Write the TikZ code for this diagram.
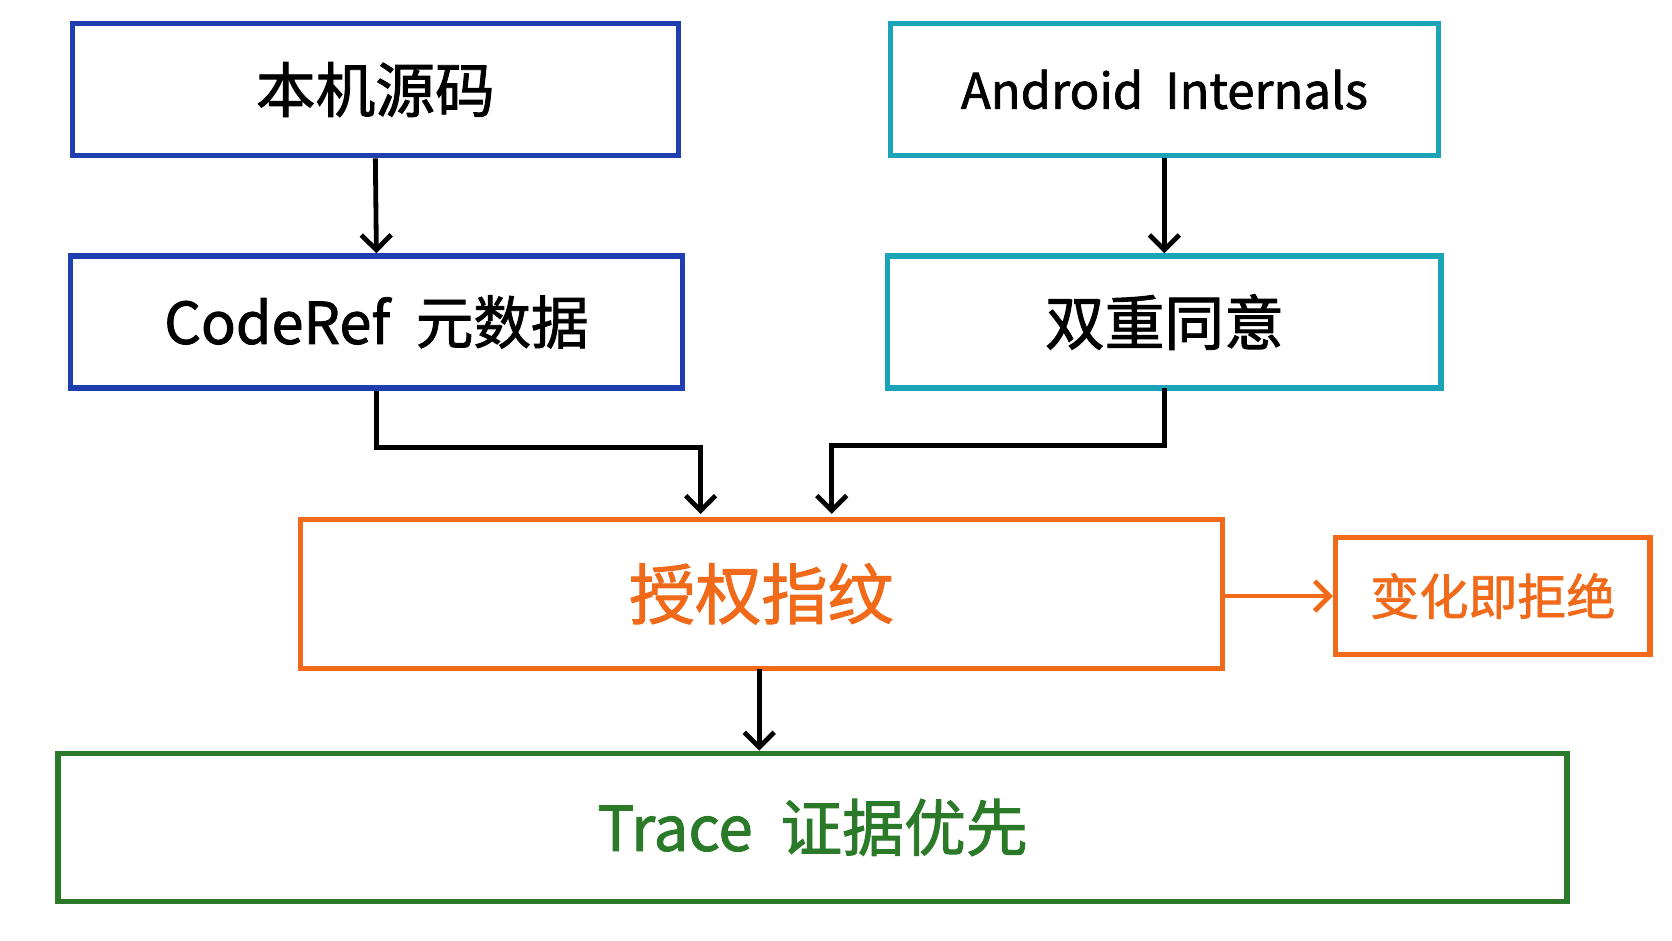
\documentclass[tikz,border=0pt]{standalone}
\usepackage{fontspec}
\setmainfont{Noto Sans CJK SC}[FakeBold=1.5,AutoFakeBold=1.5]
\usetikzlibrary{arrows.meta}
\definecolor{cb}{HTML}{1F3FB0}
\definecolor{ct}{HTML}{1BA3B8}
\definecolor{co}{HTML}{F06A1A}
\definecolor{cg}{HTML}{2A7A2A}
\begin{document}
\begin{tikzpicture}[x=1pt,y=-1pt,
 box/.style={draw=#1,line width=5pt,inner sep=0pt,anchor=center,font=\bfseries},
 arr/.style={line width=4.5pt,-{Straight Barb[length=14pt,width=28pt,line width=4.5pt]}}]
\fill[white] (0,0) rectangle (1568,882);
\useasboundingbox (0,0) rectangle (1568,882);
\node[box=cb,minimum width=568pt,minimum height=124pt] (a) at (352,84) {\fontsize{56}{64}\selectfont 本机源码};
\node[box=ct,minimum width=514pt,minimum height=124pt] (b) at (1092,84) {\fontsize{46}{54}\selectfont Android\ \ Internals};
\node[box=cb,minimum width=574pt,minimum height=124pt] (c) at (353,302) {\fontsize{54}{62}\selectfont CodeRef\ \ 元数据};
\node[box=ct,minimum width=519pt,minimum height=124pt] (d) at (1092,302) {\fontsize{56}{64}\selectfont 双重同意};
\node[box=co,minimum width=865pt,minimum height=140pt,text=co] (e) at (714,557) {\fontsize{62}{70}\selectfont 授权指纹};
\node[box=co,minimum width=295pt,minimum height=110pt,text=co] (f) at (1400,559) {\fontsize{46}{54}\selectfont 变化即拒绝};
\node[box=cg,minimum width=1415pt,minimum height=139pt,text=cg] (g) at (762,776) {\fontsize{58}{66}\selectfont Trace\ \ 证据优先};
\draw[arr] (a.south) -- (c.north);
\draw[arr] (b.south) -- (d.north);
\draw[arr] (c.south) -- (353,420) -- (657,420) -- (657,482);
\draw[arr] (1092,364) -- (1092,418) -- (780,418) -- (780,482);
\draw[arr,draw=co] (e.east |- f.west) -- (f.west);
\draw[arr] (712,627) -- (g.north -| 712,0);
\end{tikzpicture}
\end{document}
